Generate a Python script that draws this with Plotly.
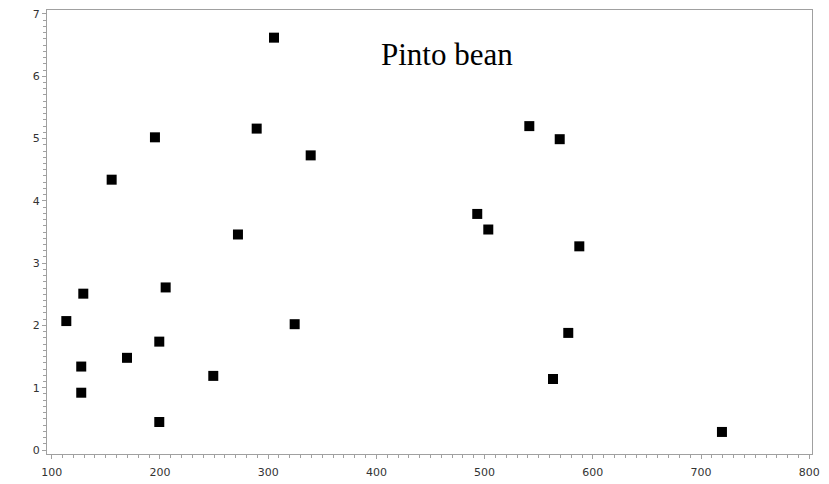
import plotly.graph_objects as go

x_vals = [113.5, 129.2, 127.3, 127.3, 155.4, 169.6, 195.4, 199.4, 199.4, 205.3,
          249.3, 272.1, 289.4, 305.4, 324.5, 339.3, 493.2, 503.4, 541.3, 569.4,
          587.5, 577.3, 563.2, 719.3]
y_vals = [2.07, 2.51, 1.34, 0.92, 4.34, 1.48, 5.02, 1.74, 0.45, 2.61,
          1.19, 3.46, 5.16, 6.62, 2.02, 4.73, 3.79, 3.54, 5.20, 4.99,
          3.27, 1.88, 1.14, 0.29]
x_ticks = [100, 200, 300, 400, 500, 600, 700, 800]
y_ticks = [0, 1, 2, 3, 4, 5, 6, 7]
title_text = "Pinto bean"

fig = go.Figure()
fig.add_trace(go.Scatter(
    x=x_vals, y=y_vals, mode="markers",
    marker=dict(symbol="square", size=10, color="black", line=dict(width=0)),
    showlegend=False, hoverinfo="x+y",
))

axis_common = dict(
    showline=True, linecolor="#a0a0a0", linewidth=1, mirror=True,
    showgrid=False, zeroline=False, automargin=False,
    ticks="outside", tickcolor="#a0a0a0", ticklen=4, tickwidth=1,
    tickfont=dict(family="DejaVu Sans", size=11, color="#333333"),
)

fig.update_xaxes(
    range=[95.66, 802.5], tickmode="array", tickvals=x_ticks,
    ticktext=[str(v) for v in x_ticks], ticklabelstandoff=4,
    minor=dict(dtick=10, ticks="outside", ticklen=3, tickcolor="#a0a0a0", showgrid=False),
    **axis_common,
)
fig.update_yaxes(
    range=[-0.064, 7.064], tickmode="array", tickvals=y_ticks,
    ticktext=[str(v) for v in y_ticks],
    minor=dict(dtick=0.1, ticks="outside", ticklen=3, tickcolor="#a0a0a0", showgrid=False),
    **axis_common,
)

W, H = 829, 484
ml, mr, mt, mb = 47, 17, 10, 30
pw, ph = W - ml - mr, H - mt - mb

fig.add_annotation(
    x=(447 - ml) / pw, y=1 - (55 - mt) / ph, xref="paper", yref="paper",
    text=title_text, showarrow=False,
    font=dict(family="Liberation Serif", size=31, color="black"),
    xanchor="center", yanchor="middle",
)

fig.update_layout(
    width=W, height=H,
    margin=dict(l=ml, r=mr, t=mt, b=mb, pad=0, autoexpand=False),
    paper_bgcolor="white", plot_bgcolor="white",
)

fig.write_html("out.html")
